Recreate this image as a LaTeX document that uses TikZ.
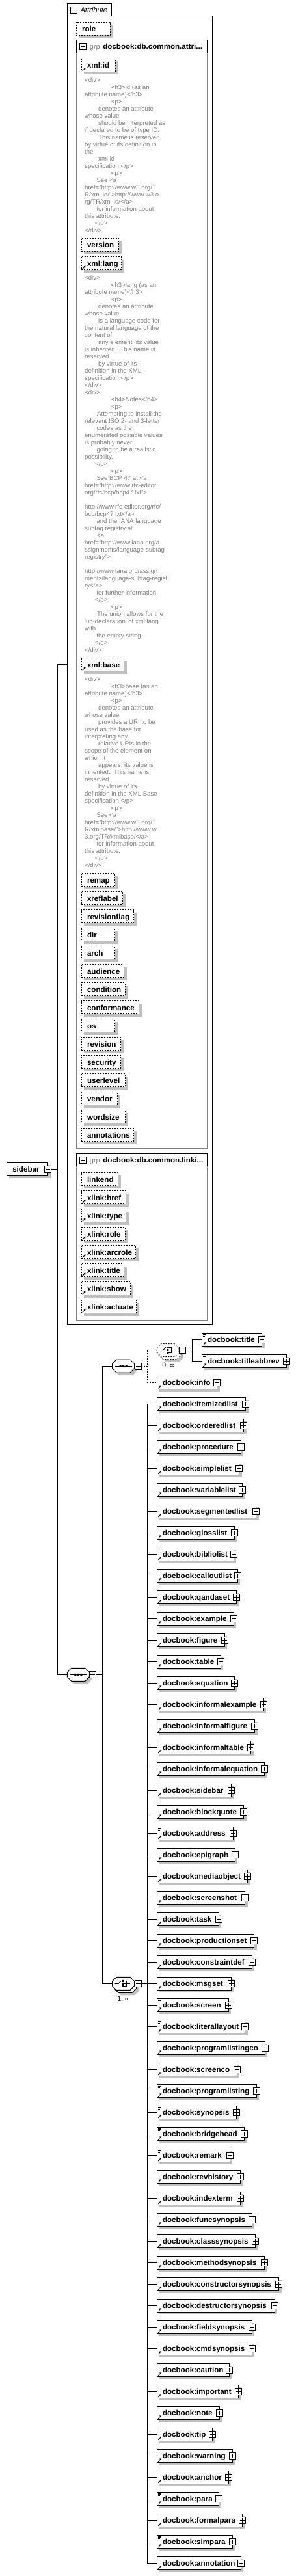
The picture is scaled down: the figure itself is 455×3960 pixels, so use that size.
\documentclass[tikz,border=0pt]{standalone}
\usepackage{fontspec}
\setmainfont{Liberation Sans}
\usetikzlibrary{arrows.meta}
\definecolor{shd}{RGB}{192,192,192}
\definecolor{doccol}{RGB}{128,128,128}
\definecolor{grpcol}{RGB}{128,128,128}
\newcommand\hsA{\hspace*{40.7pt}}
\newcommand\hsB{\hspace*{21pt}}
\newcommand\hsC{\hspace*{18.3pt}}
\newcommand\hsD{\hspace*{16pt}}
\newcommand\hsE{\hspace*{19pt}}
\tikzset{
 lbl/.style={font=\bfseries\fontsize{11.6}{13}\selectfont, inner sep=0, outer sep=0, anchor=base west},
 ebox/.style={draw, fill=white, line width=1pt, inner sep=0, outer sep=0, minimum height=20pt, anchor=west},
 abox/.style={draw, fill=white, line width=1pt, dash pattern=on 2pt off 2pt, inner sep=0, outer sep=0, minimum height=20pt, anchor=north west},
 dbox/.style={dash pattern=on 2pt off 2pt},
 pmbox/.style={draw, fill=white, line width=1pt, inner sep=0, outer sep=0, minimum size=10pt},
 conn/.style={line width=1pt},
 dconn/.style={line width=1pt, dash pattern=on 2pt off 2pt},
 docl/.style={font=\fontsize{9.6}{11}\selectfont, text=doccol, inner sep=0, anchor=base west},
 arr/.style={line width=1pt, -{Triangle[length=2.6pt,width=3.2pt]}},
}
\newcommand\minusbox[3]{\node[pmbox] (#1) at (#2,#3) {};
 \draw[line width=1pt] (#2-3.5,#3) -- (#2+3.5,#3);}
\newcommand\plusbox[3]{\node[pmbox] (#1) at (#2,#3) {};
 \draw[line width=1pt] (#2-3.5,#3) -- (#2+3.5,#3) (#2,#3-3.5) -- (#2,#3+3.5);}
% name, left, cy, right, text, lines-icon, extra style
\newcommand\elembox[7]{%
 \fill[shd] (#2+4,#3-6) rectangle (#4+4,#3+14);
 \node[ebox, minimum width={#4-#2}, #7] (#1) at (#2,#3) {};
 \node[lbl] (#1t) at (#2+8.7,#3+4.3) {#5};
 \draw[arr] (#2+2,#3+8.6) -- (#2+6.8,#3+3.8);
 \ifnum#6=1 \draw[line width=0.8pt] (#2+1.5,#3-8.4) -- +(5.5,0) (#2+1.5,#3-6.7) -- +(5.5,0) (#2+1.5,#3-5) -- +(3.5,0);\fi
 \plusbox{#1p}{#4}{#3}}
% name, left, top, right, text, arrow
\newcommand\attbox[6]{%
 \fill[shd] (#2+4,#3+4) rectangle (#4+4,#3+24);
 \node[abox, minimum width={#4-#2}] (#1) at (#2,#3) {};
 \node[lbl] (#1t) at (#2+9,#3+14.3) {#5};
 \ifnum#6=1 \draw[arr] (#2+1.8,#3+18.6) -- (#2+6.6,#3+13.8);\fi}
\newcommand\octpath[2]{(#1-17,#2-3.5) -- (#1-10.5,#2-10) -- (#1+10.5,#2-10) -- (#1+17,#2-3.5) -- (#1+17,#2+3.5) -- (#1+10.5,#2+10) -- (#1-10.5,#2+10) -- (#1-17,#2+3.5) -- cycle}
\newcommand\seqicon[2]{%
 \draw[line width=1pt] (#1-13,#2) -- (#1+13,#2);
 \fill (#1-6,#2-1.5) rectangle +(3,3) (#1-1.5,#2-1.5) rectangle +(3,3) (#1+3,#2-1.5) rectangle +(3,3);}
\newcommand\choiceicon[2]{%
 \draw[line width=1pt] (#1-12.8,#2) -- (#1-7.5,#2) -- (#1-3.3,#2-4.2);
 \fill (#1-1.8,#2-5.5) rectangle +(3,3) (#1-1.8,#2-1.5) rectangle +(3,3) (#1-1.8,#2+2.5) rectangle +(3,3);
 \draw[line width=1pt] (#1+1.2,#2-4) -- (#1+4.8,#2-4) -- (#1+4.8,#2+4) -- (#1+1.2,#2+4) (#1+1.2,#2) -- (#1+10.5,#2);}
\begin{document}
\begin{tikzpicture}[x=1pt,y=-1pt]
\useasboundingbox (0,0) rectangle (455,3960);
% ---------- Attribute container ----------
\draw[conn] (103.5,24.5) -- (103.5,5.5) -- (171.5,5.5) -- (171.5,24.5) -- (326.5,24.5) -- (326.5,2036) -- (103.5,2036) -- cycle;
\node[inner sep=0, outer sep=0, minimum width=223pt, minimum height=2011.5pt, anchor=north west] (attr) at (103.5,24.5) {};
\minusbox{attrpm}{113.8}{15.5}
\node[font=\itshape\fontsize{11.2}{13}\selectfont, inner sep=0, anchor=base west] (attrlbl) at (123.3,19.6) {Attribute};
\attbox{role}{117}{34}{169}{role}{0}
% group 1
\draw[grpcol, line width=1pt] (117.5,61.3) rectangle (318.7,1765.3);
\draw[conn] (117.5,80.7) -- (117.5,61.3) -- (318.7,61.3) -- (318.7,80.7);
\node[inner sep=0, outer sep=0, minimum width=201.2pt, minimum height=1704pt, anchor=north west] (grp1) at (117.5,61.3) {};
\minusbox{g1pm}{127.5}{71.5}
\node[font=\fontsize{11}{13}\selectfont, text=grpcol, inner sep=0, anchor=base west] (g1k) at (137.7,75.4) {grp};
\node[lbl] (g1t) at (158.3,75.6) {docbook:db.common.attri...};
\attbox{xmlid}{125}{90.3}{177}{xml:id}{1}
\foreach \l [count=\k from 0] in {<div>, \hsA<h3>id (as an, attribute name)</h3>, \hsA<p>, \hsB denotes an attribute, whose value, \hsB should be interpreted as, if declared to be of type ID., \hsB This name is reserved, by virtue of its definition in, the, \hsB xml:id, specification.</p>, \hsA<p>, \hsC See <a, href="http://www.w3.org/T, R/xml-id/">http://www.w3.o, rg/TR/xml-id/</a>, \hsC for information about, this attribute., \hsD</p>, </div>}
 \node[docl] at (130,126.3+11*\k) {\l};
\attbox{version}{125}{366.3}{182.7}{version}{0}
\attbox{xmllang}{125}{394.7}{186.7}{xml:lang}{1}
\foreach \l [count=\k from 0] in {<div>, \hsA<h3>lang (as an, attribute name)</h3>, \hsA<p>, \hsB denotes an attribute, whose value, \hsB is a language code for, the natural language of the, content of, \hsB any element; its value, is inherited.\ \ This name is, reserved, \hsB by virtue of its, definition in the XML, specification.</p>, </div>, <div>, \hsA<h4>Notes</h4>, \hsA<p>, \hsE Attempting to install the, relevant ISO 2- and 3-letter, \hsC codes as the, enumerated possible values, is probably never, \hsC going to be a realistic, possibility., \hsD</p>, \hsA<p>, \hsC See BCP 47 at <a, href="http://www.rfc-editor., org/rfc/bcp/bcp47.txt">, \mbox{}, http://www.rfc-editor.org/rfc/, bcp/bcp47.txt</a>, \hsC and the IANA language, subtag registry at, \hsE<a, href="http://www.iana.org/a, ssignments/language-subtag-, registry">, \mbox{}, http://www.iana.org/assign, ments/language-subtag-regist, ry</a>, \hsC for further information., \hsD</p>, \hsA<p>, \hsE The union allows for the, \textquotesingle un-declaration\textquotesingle\ of xml:lang, with, \hsC the empty string., \hsD</p>, </div>}
 \node[docl] at (130,430.3+11*\k) {\l};
\attbox{xmlbase}{125}{1011.7}{190.7}{xml:base}{1}
\foreach \l [count=\k from 0] in {<div>, \hsA<h3>base (as an, attribute name)</h3>, \hsA<p>, \hsB denotes an attribute, whose value, \hsB provides a URI to be, used as the base for, interpreting any, \hsB relative URIs in the, scope of the element on, which it, \hsB appears; its value is, inherited.\ \ This name is, reserved, \hsB by virtue of its, definition in the XML Base, specification.</p>, \hsA<p>, \hsC See <a, href="http://www.w3.org/T, R/xmlbase/">http://www.w, 3.org/TR/xmlbase/</a>, \hsC for information about, this attribute., \hsD</p>, </div>}
 \node[docl] at (130,1047.6+11*\k) {\l};
\foreach \t/\yt/\r [count=\i] in {remap/1342.7/176.7, xreflabel/1370.7/188.7, revisionflag/1398.7/205.7, dir/1426.7/176.7, arch/1454.7/176.7, audience/1482.7/190.7, condition/1510.7/192, conformance/1538.7/213.7, os/1566.7/176.7, revision/1594.7/185.7, security/1622.7/185.7, userlevel/1650.7/192.7, vendor/1678.7/180.7, wordsize/1706.7/192.7, annotations/1734.7/205.7}
 {\attbox{ca\i}{125}{\yt}{\r}{\t}{0}}
% group 2
\draw[grpcol, line width=1pt] (117.5,1773.7) rectangle (318.7,2029.3);
\draw[conn] (117.5,1792.7) -- (117.5,1773.7) -- (318.7,1773.7) -- (318.7,1792.7);
\node[inner sep=0, outer sep=0, minimum width=201.2pt, minimum height=255.6pt, anchor=north west] (grp2) at (117.5,1773.7) {};
\minusbox{g2pm}{127.5}{1783.8}
\node[font=\fontsize{11}{13}\selectfont, text=grpcol, inner sep=0, anchor=base west] (g2k) at (137.7,1787.7) {grp};
\node[lbl] (g2t) at (158.3,1787.9) {docbook:db.common.linki...};
\foreach \t/\yt/\r/\ar [count=\i] in {linkend/1802.7/181.7/0, xlink:href/1830.7/193.7/1, xlink:type/1858.7/193.7/1, xlink:role/1886.7/192/1, xlink:arcrole/1914.7/208.7/1, xlink:title/1942.7/190.7/1, xlink:show/1970.7/200.7/1, xlink:actuate/1998.7/209.7/1}
 {\attbox{la\i}{125}{\yt}{\r}{\t}{\ar}}
% ---------- root ----------
\fill[shd] (14.3,1791.3) rectangle (77.7,1811.3);
\node[ebox, minimum width=63.4pt, anchor=north west] (sidebar) at (10.3,1787.3) {};
\node[lbl] (sidebart) at (19.3,1801.6) {sidebar};
\minusbox{sbpm}{73.8}{1797.5}
\coordinate (j1top) at (88.3,1021.3);
\coordinate (j1bot) at (88.3,2574.3);
\draw[conn] (sbpm.east) -- (sbpm.east -| j1top);
\draw[conn] (j1top) -- (j1bot);
\draw[conn] (j1top) -- (attr.west |- j1top);
% ---------- sequence (outer) ----------
\fill[shd] \octpath{124.3}{2578.3};
\node[inner sep=0, outer sep=0, minimum width=34pt, minimum height=20pt] (seq0) at (120.3,2574.3) {};
\draw[conn, fill=white] \octpath{120.3}{2574.3};
\seqicon{120.3}{2574.3}
\minusbox{seq0pm}{142.8}{2574.8}
\draw[conn] (j1bot) -- (seq0.west);
\coordinate (j2top) at (157.3,2100);
\coordinate (j2bot) at (157.3,3049.3);
\draw[conn] (seq0pm.east) -- (seq0pm.east -| j2top);
\draw[conn] (j2top) -- (j2bot);
% ---------- inner sequence ----------
\fill[shd] \octpath{193.5}{2104};
\node[inner sep=0, outer sep=0, minimum width=34pt, minimum height=20pt] (seq1) at (189.5,2100) {};
\draw[conn, fill=white] \octpath{189.5}{2100};
\seqicon{189.5}{2100}
\minusbox{seq1pm}{212.2}{2100.5}
\draw[conn] (j2top) -- (seq1.west);
\coordinate (j3top) at (226.3,2075.5);
\coordinate (j3bot) at (226.3,2125.5);
\draw[dconn] (seq1pm.east) -- (seq1pm.east -| j3top);
\draw[dconn] (j3top) -- (j3bot);
% choice 0..inf
\fill[shd] \octpath{258.2+7}{2075.5+8};
\draw[dconn, fill=white] \octpath{258.2+3}{2075.5+4};
\node[inner sep=0, outer sep=0, minimum width=34pt, minimum height=20pt] (ch0) at (258.2,2075.5) {};
\draw[dconn, fill=white] \octpath{258.2}{2075.5};
\choiceicon{258.2}{2075.5}
\minusbox{ch0pm}{280.5}{2075.5}
\node[font=\fontsize{10.5}{12}\selectfont, inner sep=0, anchor=base] (ch0m) at (259,2102.6) {0..∞};
\draw[dconn] (j3top) -- (ch0.west);
\coordinate (j4top) at (295.3,2059.3);
\coordinate (j4bot) at (295.3,2092.3);
\draw[conn] (ch0pm.east) -- (ch0pm.east -| j4top);
\draw[conn] (j4top) -- (j4bot);
\elembox{title}{310.3}{2059.3}{402.7}{docbook:title}{1}{}
\elembox{tabbr}{310.3}{2092.3}{440.7}{docbook:titleabbrev}{1}{}
\draw[conn] (j4top) -- (title.west);
\draw[conn] (j4bot) -- (tabbr.west);
\elembox{info}{241.3}{2125.5}{333.7}{docbook:info}{0}{dbox}
\draw[dconn] (j3bot) -- (info.west);
% choice 1..inf
\fill[shd] \octpath{189.5+7}{3049.3+8};
\draw[conn, fill=white] \octpath{189.5+3}{3049.3+4};
\node[inner sep=0, outer sep=0, minimum width=34pt, minimum height=20pt] (ch1) at (189.5,3049.3) {};
\draw[conn, fill=white] \octpath{189.5}{3049.3};
\choiceicon{189.5}{3049.3}
\minusbox{ch1pm}{212.2}{3049.8}
\node[font=\fontsize{10.5}{12}\selectfont, inner sep=0, anchor=base] (ch1m) at (190,3076.9) {1..∞};
\draw[conn] (j2bot) -- (ch1.west);
\coordinate (spine) at (226.3,2158.3);
\coordinate (spinebot) at (226.3,3940.3);
\draw[conn] (ch1pm.east) -- (ch1pm.east -| spine);
\draw[conn] (spine) -- (spinebot);
\foreach \n/\r/\ic [count=\i from 0] in {itemizedlist/377.7/0, orderedlist/374.7/0, procedure/370.3/0, simplelist/367.7/0, variablelist/372.3/0, segmentedlist/393.7/0, glosslist/360.3/0, bibliolist/359.3/0, calloutlist/365.3/0, qandaset/363.7/0, example/359.3/0, figure/345.3/0, table/339.3/0, equation/360.3/0, informalexample/405.3/0, informalfigure/391.7/0, informaltable/385.7/0, informalequation/406.3/0, sidebar/355.3/0, blockquote/374.7/0, address/358.3/1, epigraph/361.3/0, mediaobject/380.3/0, screenshot/376.7/0, task/336.3/0, productionset/390.7/0, constraintdef/387.3/0, msgset/355.3/0, screen/351.3/1, literallayout/376.7/1, programlistingco/407.3/0, screenco/364.3/0, programlisting/394.3/1, synopsis/363.3/1, bridgehead/375.3/1, remark/353.3/1, revhistory/369.3/0, indexterm/369.3/0, funcsynopsis/387.3/0, classsynopsis/392.3/0, methodsynopsis/406.3/0, constructorsynopsis/428.7/0, destructorsynopsis/422.3/0, fieldsynopsis/387.3/0, cmdsynopsis/387.3/0, caution/352.3/0, important/366.3/0, note/337.3/0, tip/326.3/0, warning/357.3/0, anchor/351.3/0, para/336.3/1, formalpara/372.3/0, simpara/357.3/1, annotation/370.3/0}
{
 \pgfmathsetmacro\yy{2158.3+33*\i}
 \elembox{e\i}{241.3}{\yy}{\r}{docbook:\n}{\ic}{}
 \draw[conn] (e\i.west) -- (spine |- e\i.west);
}
\end{tikzpicture}
\end{document}
